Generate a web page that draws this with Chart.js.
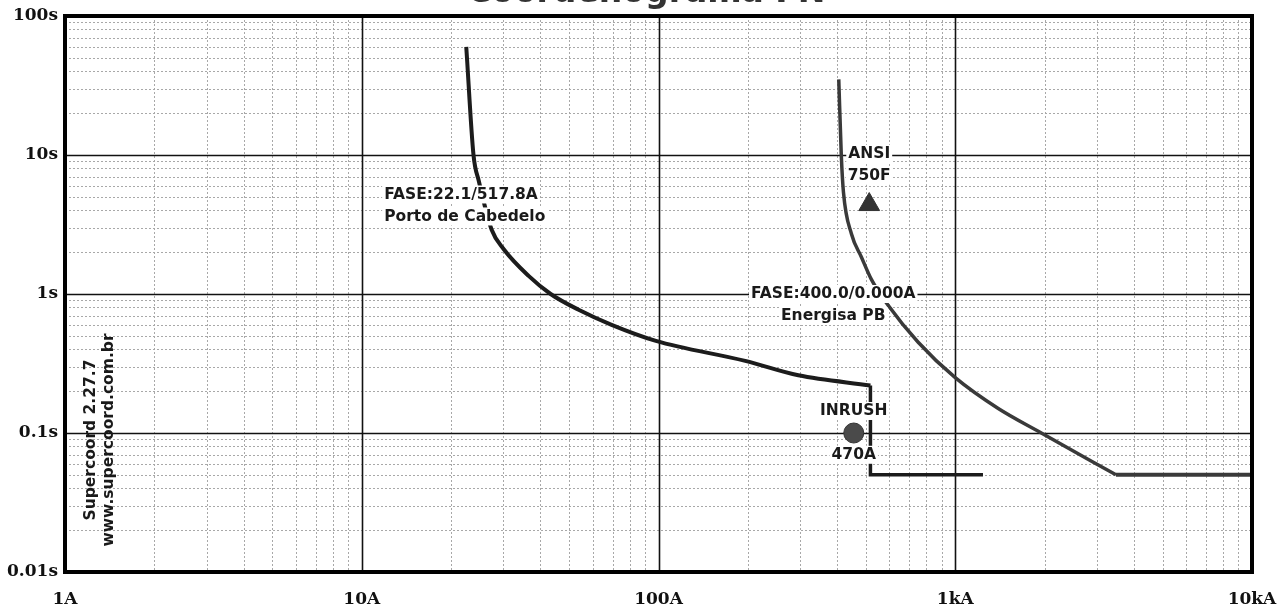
<!DOCTYPE html>
<html>
<head>
  <meta charset="UTF-8">
  <title>Coordenograma FN</title>
  <script src="https://cdn.jsdelivr.net/npm/chart.js"></script>
  <style>
    body { margin: 0; background: #fff; }
  </style>
</head>
<body>
<canvas id="myChart" width="1281" height="616"></canvas>
<script>
  // eixos: uma entrada por decada
  var ampDecades = [1, 10, 100, 1000, 10000];
  var ampLabels = ['1A', '10A', '100A', '1kA', '10kA'];
  var secDecades = [0.01, 0.1, 1, 10, 100];
  var secLabels = ['0.01s', '0.1s', '1s', '10s', '100s'];

  // FASE:22.1/517.8A Porto de Cabedelo
  var portoAmps = [22.5, 23.8, 24.8, 27.4, 30.1, 36.5, 43.3, 53.8, 69.5, 98, 196, 296, 517.8];
  var portoSecs = [60, 10, 6.5, 2.9, 2.1, 1.35, 1.0, 0.77, 0.6, 0.46, 0.33, 0.26, 0.22];
  var portoInstAmps = [517.8, 517.8, 1240];
  var portoInstSecs = [0.22, 0.05, 0.05];

  // FASE:400.0/0.000A Energisa PB
  var energisaAmps = [405, 413, 420, 447, 483, 521, 594, 750, 1000, 1396, 1950, 3480];
  var energisaSecs = [35, 10, 5.4, 2.7, 1.84, 1.28, 0.83, 0.45, 0.25, 0.15, 0.1, 0.05];
  var energisaInstAmps = [3480, 10000];
  var energisaInstSecs = [0.05, 0.05];

  // marcadores
  var inrushAmps = [455];
  var inrushSecs = [0.1];
  var ansiAmps = [513];
  var ansiSecs = [4.4];

  var notes = [
    {lines: ['FASE:22.1/517.8A', 'Porto de Cabedelo'], amp: 11.9, sec: 5.2, align: 'left'},
    {lines: ['FASE:400.0/0.000A', 'Energisa PB'], amp: 388, sec: 1.0, align: 'center'},
    {lines: ['ANSI', '750F'], amp: 513, sec: 10.2, align: 'center'},
    {lines: ['INRUSH'], amp: 455, sec: 0.144, align: 'center'},
    {lines: ['470A'], amp: 455, sec: 0.0697, align: 'center'}
  ];

  function zip(xs, ys) {
    return xs.map(function (x, i) { return {x: x, y: ys[i]} });
  }

  function gridValues(decades) {
    var out = [];
    for (var i = 0; i < decades.length - 1; i++) {
      for (var k = 1; k < 10; k++) out.push(k === 1 ? decades[i] : decades[i] * k);
    }
    out.push(decades[decades.length - 1]);
    return out;
  }

  var tickFont = {family: 'DejaVu Serif', weight: 'bold', size: 17};
  var noteFont = 'bold 15.5px "DejaVu Sans"';

  var gridPlugin = {
    id: 'grid',
    beforeDatasetsDraw: function (chart) {
      var ctx = chart.ctx, a = chart.chartArea, x = chart.scales.x, y = chart.scales.y;
      ctx.save();
      function line(x1, y1, x2, y2, major) {
        ctx.beginPath();
        ctx.setLineDash(major ? [] : [2, 2]);
        ctx.lineWidth = major ? 1.6 : 1;
        ctx.strokeStyle = major ? '#111' : '#a8a8a8';
        ctx.moveTo(x1, y1);
        ctx.lineTo(x2, y2);
        ctx.stroke();
      }
      // secundarias primeiro
      [false, true].forEach(function (pass) {
        x.ticks.forEach(function (t) {
          var major = ampDecades.indexOf(t.value) >= 0;
          if (major !== pass) return;
          var px = Math.round(x.getPixelForValue(t.value)) + 0.5;
          line(px, a.top, px, a.bottom, major);
        });
        y.ticks.forEach(function (t) {
          var major = secDecades.indexOf(t.value) >= 0;
          if (major !== pass) return;
          var py = Math.round(y.getPixelForValue(t.value)) + 0.5;
          line(a.left, py, a.right, py, major);
        });
      });
      ctx.restore();
    },
    afterDatasetsDraw: function (chart) {
      var ctx = chart.ctx, x = chart.scales.x, y = chart.scales.y;
      ctx.save();
      ctx.font = noteFont;
      ctx.textBaseline = 'middle';
      notes.forEach(function (n) {
        var px = x.getPixelForValue(n.amp), py = y.getPixelForValue(n.sec);
        n.lines.forEach(function (txt, i) {
          var w = ctx.measureText(txt).width;
          var left = n.align === 'left' ? px : px - w / 2;
          var ty = py + i * 22;
          ctx.fillStyle = '#fff';
          ctx.fillRect(left - 2, ty - 9, w + 4, 18);
          ctx.fillStyle = '#1a1a1a';
          ctx.textAlign = 'left';
          ctx.fillText(txt, left, ty);
        });
      });
      ctx.restore();
    },
    afterDraw: function (chart) {
      var ctx = chart.ctx, a = chart.chartArea;
      ctx.save();
      ctx.lineWidth = 4;
      ctx.strokeStyle = '#000';
      ctx.strokeRect(a.left, a.top, a.right - a.left, a.bottom - a.top);

      // marca do programa, na vertical
      ctx.fillStyle = '#1a1a1a';
      ctx.font = 'bold 15.5px "DejaVu Sans"';
      ctx.textAlign = 'center';
      ctx.textBaseline = 'middle';
      ctx.translate(a.left + 26, 440);
      ctx.rotate(-Math.PI / 2);
      ctx.fillText('Supercoord 2.27.7', 0, 0);
      ctx.fillText('www.supercoord.com.br', 0, 18);
      ctx.restore();

      // titulo, cortado pela digitalizacao
      ctx.save();
      ctx.fillStyle = '#333';
      ctx.font = 'bold 33px "DejaVu Sans"';
      ctx.textAlign = 'left';
      ctx.textBaseline = 'alphabetic';
      ctx.fillText('Coordenograma FN', 467, 2);
      ctx.restore();
    }
  };

  var ctx = document.getElementById('myChart');
  var chart = new Chart(ctx, {
    type: 'scatter',
    data: {
      datasets: [{
        data: zip(inrushAmps, inrushSecs),
        pointStyle: 'circle', pointRadius: 10,
        backgroundColor: '#4a4a4a', borderColor: '#333', borderWidth: 1
      }, {
        data: zip(ansiAmps, ansiSecs),
        pointStyle: 'triangle', pointRadius: 12,
        backgroundColor: '#333', borderColor: '#333', borderWidth: 1
      }, {
        data: zip(portoAmps, portoSecs),
        showLine: true, pointRadius: 0, borderColor: '#1c1c1c', borderWidth: 4,
        cubicInterpolationMode: 'monotone'
      }, {
        data: zip(portoInstAmps, portoInstSecs),
        showLine: true, pointRadius: 0, borderColor: '#1c1c1c', borderWidth: 3.5
      }, {
        data: zip(energisaAmps, energisaSecs),
        showLine: true, pointRadius: 0, borderColor: '#3a3a3a', borderWidth: 3.5,
        cubicInterpolationMode: 'monotone'
      }, {
        data: zip(energisaInstAmps, energisaInstSecs),
        showLine: true, pointRadius: 0, borderColor: '#3a3a3a', borderWidth: 4
      }]
    },
    options: {
      responsive: false,
      animation: false,
      devicePixelRatio: 1,
      layout: {padding: {top: 16, right: 29, left: 0, bottom: 0}},
      plugins: {legend: {display: false}, tooltip: {enabled: false}},
      scales: {
        x: {
          type: 'logarithmic', min: 1, max: 10000,
          afterBuildTicks: function (s) { s.ticks = gridValues(ampDecades).map(function (v) { return {value: v} }) },
          afterFit: function (s) { s.height = 44; s.paddingLeft = 0; s.paddingRight = 0 },
          grid: {display: false, drawTicks: false},
          border: {display: false},
          ticks: {
            autoSkip: false, maxRotation: 0, padding: 17, color: '#111', font: tickFont,
            callback: function (v) { var i = ampDecades.indexOf(v); return i < 0 ? '' : ampLabels[i] }
          }
        },
        y: {
          type: 'logarithmic', min: 0.01, max: 100,
          afterBuildTicks: function (s) { s.ticks = gridValues(secDecades).map(function (v) { return {value: v} }) },
          afterFit: function (s) { s.width = 65; s.paddingTop = 0; s.paddingBottom = 0 },
          grid: {display: false, drawTicks: false},
          border: {display: false},
          ticks: {
            autoSkip: false, padding: 7, color: '#111', font: tickFont,
            callback: function (v) { var i = secDecades.indexOf(v); return i < 0 ? '' : secLabels[i] }
          }
        }
      }
    },
    plugins: [gridPlugin]
  });
</script>
</body>
</html>
